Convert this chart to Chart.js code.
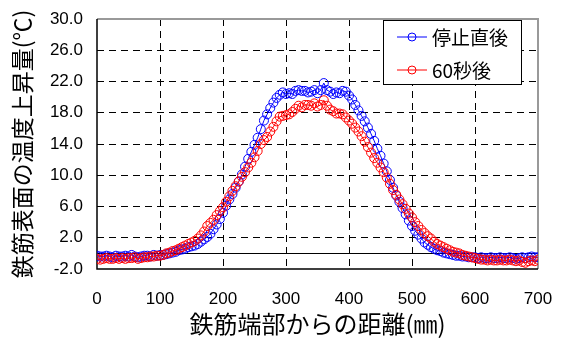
<!DOCTYPE html>
<html>
<head>
<meta charset="utf-8">
<script src="https://cdn.jsdelivr.net/npm/chart.js@4.4.1/dist/chart.umd.min.js"></script>
<style>
  html, body { margin: 0; padding: 0; background: #fff; }
  #wrap { width: 561px; height: 338px; }
</style>
</head>
<body>
<div id="wrap"><canvas id="tempChart" width="561" height="338"></canvas></div>
<script>
const distance = [
  0, 5, 10, 15, 20, 25, 30, 35, 40, 45, 50, 55, 60, 65, 70, 75, 80, 85, 90, 95, 100,
  105, 110, 115, 120, 125, 130, 135, 140, 145, 150, 155, 160, 165, 170, 175, 180, 185, 190, 195, 200,
  205, 210, 215, 220, 225, 230, 235, 240, 245, 250, 255, 260, 265, 270, 275, 280, 285, 290, 295, 300,
  305, 310, 315, 320, 325, 330, 335, 340, 345, 350, 355, 360, 365, 370, 375, 380, 385, 390, 395, 400,
  405, 410, 415, 420, 425, 430, 435, 440, 445, 450, 455, 460, 465, 470, 475, 480, 485, 490, 495, 500,
  505, 510, 515, 520, 525, 530, 535, 540, 545, 550, 555, 560, 565, 570, 575, 580, 585, 590, 595, 600,
  605, 610, 615, 620, 625, 630, 635, 640, 645, 650, 655, 660, 665, 670, 675, 680, 685, 690, 695, 700
];

// 停止直後
const stopNow = [
  -0.3, -0.4, -0.4, -0.3, -0.4, -0.5, -0.3, -0.4, -0.4, -0.3, -0.4, -0.2, -0.4, -0.5, -0.4, -0.3, -0.3, -0.4, -0.2, -0.3, -0.2,
  -0.2, -0.1, 0.0, 0.1, 0.2, 0.4, 0.5, 0.6, 0.8, 0.9, 1.0, 1.2, 1.5, 1.8, 2.1, 2.5, 3.1, 3.7, 4.4, 5.2,
  6.1, 6.9, 7.6, 8.4, 9.2, 10.1, 11.1, 12.1, 13.0, 13.9, 14.8, 15.9, 17.0, 17.8, 18.6, 19.3, 19.9, 20.3, 20.6, 20.4,
  20.5, 20.4, 20.8, 20.9, 20.8, 20.8, 20.6, 20.7, 20.9, 20.5, 20.9, 21.8, 20.9, 20.7, 20.4, 20.6, 20.5, 20.8, 20.7, 20.2,
  19.7, 19.0, 18.3, 17.6, 16.9, 16.1, 15.3, 14.4, 13.4, 12.5, 11.5, 10.5, 9.4, 8.4, 7.4, 6.6, 5.8, 5.0, 4.2, 3.5,
  2.9, 2.4, 1.9, 1.4, 1.1, 0.8, 0.6, 0.4, 0.3, 0.1, 0.0, -0.1, -0.2, -0.3, -0.3, -0.4, -0.4, -0.5, -0.5, -0.5,
  -0.6, -0.5, -0.6, -0.6, -0.5, -0.6, -0.6, -0.5, -0.6, -0.6, -0.5, -0.6, -0.7, -0.6, -0.5, -0.6, -0.5, -0.4, -0.5, -0.5
];

// 60秒後
const after60s = [
  -0.7, -0.8, -0.7, -0.6, -0.7, -0.7, -0.6, -0.7, -0.6, -0.7, -0.6, -0.6, -0.5, -0.7, -0.6, -0.5, -0.5, -0.4, -0.4, -0.3, -0.3,
  -0.2, 0.0, 0.1, 0.3, 0.4, 0.6, 0.8, 1.0, 1.2, 1.4, 1.6, 1.9, 2.3, 2.8, 3.5, 3.9, 4.3, 4.9, 5.4, 5.9,
  6.6, 7.3, 8.0, 8.6, 9.2, 9.8, 10.4, 11.0, 11.6, 12.3, 13.1, 14.0, 14.5, 14.9, 15.6, 16.2, 16.9, 17.5, 17.6, 17.7,
  17.8, 18.1, 18.5, 18.9, 18.7, 19.0, 19.0, 18.9, 19.2, 18.8, 19.0, 19.6, 18.9, 18.4, 18.2, 17.9, 17.9, 17.8, 17.4, 17.0,
  16.6, 16.1, 15.6, 15.0, 14.3, 13.6, 12.9, 12.2, 11.6, 11.0, 10.4, 9.7, 8.9, 8.1, 7.5, 6.9, 6.3, 5.7, 5.1, 4.6,
  4.0, 3.5, 3.0, 2.6, 2.2, 1.9, 1.5, 1.2, 1.0, 0.8, 0.6, 0.4, 0.2, 0.1, 0.0, -0.2, -0.3, -0.4, -0.5, -0.6,
  -0.7, -0.8, -0.8, -0.9, -0.8, -0.9, -0.9, -0.8, -0.9, -0.9, -0.8, -0.9, -1.0, -0.9, -1.1, -1.2, -1.0, -0.9, -1.0, -0.8
];

const seriesNames = ["停止直後", "60秒後"];
const seriesColors = ["#0000ff", "#ff0000"];

const xTitle = "鉄筋端部からの距離(㎜)";
const yTitle = "鉄筋表面の温度上昇量(℃)";

const jpFont = "'Noto Sans CJK JP', 'Noto Sans', sans-serif";
const numFont = "'Liberation Sans', Arial, sans-serif";

const toPoints = (vals) => vals.map((v, i) => ({ x: distance[i], y: v }));

// frame, zero line and legend box
const framePlugin = {
  id: "frame",
  beforeDatasetsDraw(chart) {
    const { ctx, chartArea: a, scales } = chart;
    ctx.save();
    ctx.setLineDash([]);
    ctx.lineWidth = 1;
    const y0 = Math.round(scales.y.getPixelForValue(0)) + 0.5;
    ctx.strokeStyle = "#000";
    ctx.beginPath();
    ctx.moveTo(a.left, y0);
    ctx.lineTo(a.right, y0);
    ctx.stroke();
    ctx.strokeStyle = "#999";
    ctx.lineWidth = 2;
    ctx.beginPath();
    ctx.moveTo(a.left, a.top);
    ctx.lineTo(a.right, a.top);
    ctx.lineTo(a.right, a.bottom);
    ctx.stroke();
    ctx.strokeStyle = "#000";
    ctx.lineWidth = 1.5;
    ctx.beginPath();
    ctx.moveTo(a.left, a.top);
    ctx.lineTo(a.left, a.bottom);
    ctx.lineTo(a.right, a.bottom);
    ctx.stroke();
    ctx.restore();
  },
  afterDraw(chart) {
    const { ctx, chartArea: a } = chart;
    const w = 138, h = 64;
    const left = a.right - 17 - w, top = a.top + 1;
    ctx.save();
    ctx.fillStyle = "#fff";
    ctx.fillRect(left, top, w, h);
    ctx.strokeStyle = "#000";
    ctx.lineWidth = 1;
    ctx.strokeRect(left + 0.5, top + 0.5, w, h);
    chart.data.datasets.forEach((ds, i) => {
      const cy = top + 17 + i * 33;
      ctx.strokeStyle = ds.borderColor;
      ctx.beginPath();
      ctx.moveTo(left + 14, cy);
      ctx.lineTo(left + 44, cy);
      ctx.stroke();
      ctx.beginPath();
      ctx.arc(left + 29, cy, 4, 0, Math.PI * 2);
      ctx.stroke();
      ctx.fillStyle = "#000";
      ctx.font = "19px " + jpFont;
      ctx.textBaseline = "middle";
      ctx.fillText(ds.label, left + 49, cy + 1);
    });
    ctx.restore();
  }
};

const edgeHidden = (lo, hi) => (c) =>
  (c.tick && (c.tick.value === lo || c.tick.value === hi)) ? "rgba(0,0,0,0)" : "#000";

new Chart("tempChart", {
  type: "line",
  data: {
    datasets: seriesNames.map((name, i) => ({
      label: name,
      data: toPoints(i === 0 ? stopNow : after60s),
      borderColor: seriesColors[i],
      borderWidth: 1,
      pointRadius: 4.5,
      pointBorderWidth: 1,
      pointBorderColor: seriesColors[i],
      pointBackgroundColor: "rgba(0,0,0,0)",
      tension: 0,
      order: i === 0 ? 1 : 0
    }))
  },
  options: {
    responsive: false,
    animation: false,
    devicePixelRatio: 1,
    layout: { padding: { top: 19, right: 23, left: 0, bottom: 0 } },
    plugins: { legend: { display: false }, tooltip: { enabled: false } },
    scales: {
      x: {
        type: "linear",
        min: 0,
        max: 700,
        ticks: { stepSize: 100, color: "#000", padding: 6, font: { family: numFont, size: 17 } },
        grid: {
          color: edgeHidden(0, 700), lineWidth: 1,
          drawTicks: true, tickLength: 14, tickColor: "rgba(0,0,0,0)"
        },
        border: { display: false, dash: [7, 5] },
        title: {
          display: true, text: xTitle, color: "#000",
          font: { family: jpFont, size: 24 }, padding: { top: 0, bottom: 0 }
        },
        afterFit(s) { s.height = 69; }
      },
      y: {
        min: -2,
        max: 30,
        ticks: {
          stepSize: 4, color: "#000", padding: 4,
          font: { family: numFont, size: 17 },
          callback: (v) => v.toFixed(1)
        },
        grid: {
          color: edgeHidden(-2, 30), lineWidth: 1,
          drawTicks: true, tickLength: 10, tickColor: "rgba(0,0,0,0)"
        },
        border: { display: false, dash: [7, 5] },
        title: {
          display: true, text: yTitle, color: "#000",
          font: { family: jpFont, size: 23 }, padding: { top: 8, bottom: 0 }
        },
        afterFit(s) { s.width = 97; }
      }
    }
  },
  plugins: [framePlugin]
});
</script>
</body>
</html>
